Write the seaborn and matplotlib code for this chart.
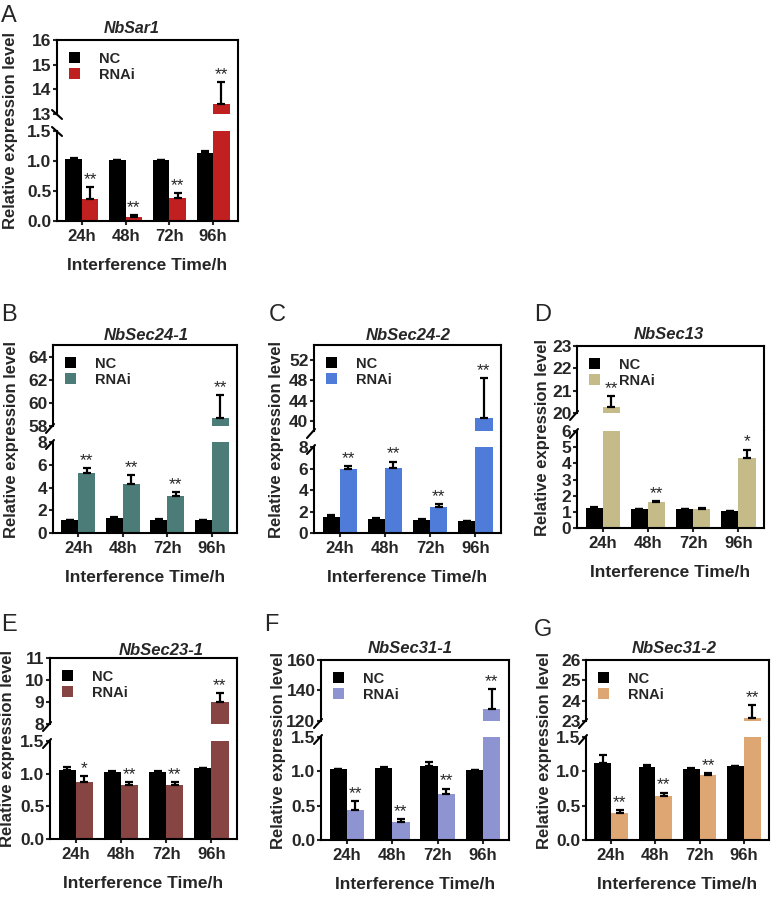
import numpy as np
import pandas as pd
import matplotlib
matplotlib.use("Agg")
import matplotlib.pyplot as plt
import seaborn as sns
from matplotlib.lines import Line2D

sns.set_style("ticks")
plt.rcParams['font.family'] = ['Liberation Sans', 'DejaVu Sans']
plt.rcParams['font.weight'] = 'bold'
plt.rcParams['axes.linewidth'] = 1.5

times = ["24h", "48h", "72h", "96h"]
groups = ["NC", "RNAi"]

# A - NbSar1
sar1_nc = [1.03, 1.02, 1.01, 1.14]
sar1_nc_err = [0.02, 0.0, 0.01, 0.02]
sar1_rnai = [0.37, 0.07, 0.38, 13.4]
sar1_rnai_err = [0.19, 0.03, 0.09, 0.9]
sar1_stars = ["**", "**", "**", "**"]

# B - NbSec24-1
sec241_nc = [1.12, 1.32, 1.18, 1.1]
sec241_nc_err = [0.03, 0.1, 0.05, 0.0]
sec241_rnai = [5.28, 4.28, 3.28, 58.7]
sec241_rnai_err = [0.46, 0.8, 0.32, 2.0]
sec241_stars = ["**", "**", "**", "**"]

# C - NbSec24-2
sec242_nc = [1.45, 1.3, 1.2, 1.1]
sec242_nc_err = [0.2, 0.1, 0.1, 0.02]
sec242_rnai = [5.95, 6.05, 2.45, 40.6]
sec242_rnai_err = [0.3, 0.6, 0.25, 7.8]
sec242_stars = ["**", "**", "**", "**"]

# D - NbSec13
sec13_nc = [1.25, 1.15, 1.15, 1.08]
sec13_nc_err = [0.02, 0.05, 0.03, 0.0]
sec13_rnai = [20.27, 1.62, 1.18, 4.35]
sec13_rnai_err = [0.5, 0.05, 0.07, 0.5]
sec13_stars = ["**", "**", "", "*"]

# E - NbSec23-1
sec231_nc = [1.05, 1.03, 1.03, 1.08]
sec231_nc_err = [0.05, 0.01, 0.01, 0.0]
sec231_rnai = [0.87, 0.82, 0.82, 9.0]
sec231_rnai_err = [0.09, 0.05, 0.05, 0.4]
sec231_stars = ["*", "**", "**", "**"]

# F - NbSec31-1
sec311_nc = [1.03, 1.05, 1.08, 1.02]
sec311_nc_err = [0.01, 0.02, 0.06, 0.0]
sec311_rnai = [0.44, 0.26, 0.67, 128.0]
sec311_rnai_err = [0.13, 0.05, 0.08, 13.0]
sec311_stars = ["**", "**", "**", "**"]

# G - NbSec31-2
sec312_nc = [1.12, 1.07, 1.04, 1.08]
sec312_nc_err = [0.12, 0.02, 0.01, 0.0]
sec312_rnai = [0.40, 0.64, 0.95, 23.17]
sec312_rnai_err = [0.03, 0.05, 0.02, 0.6]
sec312_stars = ["**", "**", "**", "**"]

W, H = 771, 897
fig = plt.figure(figsize=(W / 100, H / 100), dpi=100)


def fx(x):
    return x / W


def fy(y):
    return 1 - y / H


def draw_panel(letter, gene, nc, nc_err, rnai, rnai_err, stars, color,
               box, up_lim, up_ticks, lo_lim, lo_ticks, lo_fmt,
               letter_xy, title_xy, ylab_x, title_size=12, back_slash=False):
    left, right, t_up, b_up, t_lo, b_lo = box
    ax_up = fig.add_axes([fx(left), fy(b_up), (right - left) / W, (b_up - t_up) / H])
    ax_lo = fig.add_axes([fx(left), fy(b_lo), (right - left) / W, (b_lo - t_lo) / H])

    df = pd.DataFrame({
        "time": times * 2,
        "group": ["NC"] * 4 + ["RNAi"] * 4,
        "value": nc + rnai,
    })
    errs = [nc_err, rnai_err]
    vals = [nc, rnai]

    for ax, show_leg in [(ax_up, False), (ax_lo, True)]:
        sns.barplot(data=df, x="time", y="value", hue="group", palette=["black", color],
                    width=0.76, errorbar=None, saturation=1, ax=ax, legend=show_leg,
                    edgecolor="none", linewidth=0)
        for cont, v, e in zip(ax.containers, vals, errs):
            xs = [b.get_x() + b.get_width() / 2 for b in cont]
            ax.errorbar(xs, v, yerr=[np.zeros(4), e], fmt="none", ecolor="black",
                        elinewidth=1.6, capsize=3, capthick=1.6, zorder=3)
        ax.set_xlabel("")
        ax.set_ylabel("")
        for sp in ax.spines.values():
            sp.set_linewidth(1.5)
            sp.set_color("black")
        ax.tick_params(axis="y", direction="out", length=3, width=1.5, labelsize=12.5, pad=1)
        ax.tick_params(axis="x", direction="out", length=3, width=1.5, labelsize=12, pad=3)

    ax_up.set_ylim(*up_lim)
    ax_up.set_yticks(up_ticks)
    ax_up.set_yticklabels(["{:g}".format(t) for t in up_ticks])
    ax_up.spines["bottom"].set_visible(False)
    ax_up.tick_params(axis="x", bottom=False, labelbottom=False)

    ax_lo.set_ylim(*lo_lim)
    ax_lo.set_yticks(lo_ticks)
    ax_lo.set_yticklabels([lo_fmt.format(t) for t in lo_ticks])
    ax_lo.spines["top"].set_visible(False)
    ax_lo.set_xlabel("Interference Time/h", fontsize=12.5, fontweight="bold", labelpad=10)

    # significance stars
    rnai_bars = ax_lo.containers[1]
    for i, s in enumerate(stars):
        if not s:
            continue
        b = rnai_bars[i]
        x = b.get_x() + b.get_width() / 2
        top = rnai[i] + rnai_err[i]
        target = ax_up if top > lo_lim[1] else ax_lo
        target.annotate(s, (x, top), xytext=(0, 0), textcoords="offset points",
                        ha="center", va="bottom", fontsize=12.5, fontweight="normal")

    # legend
    handles, labels = ax_lo.get_legend_handles_labels()
    ax_lo.legend_.remove()
    ax_up.legend(handles, labels, loc="upper left", frameon=False, fontsize=10.5,
                 handlelength=0.75, handleheight=0.75, handletextpad=1.3,
                 labelspacing=0.15, borderaxespad=0.5, borderpad=0.3)

    # right spine across the break
    fig.add_artist(Line2D([fx(right), fx(right)], [fy(b_up), fy(t_lo)],
                          color="black", lw=1.5))
    # break marks on the left axis
    if back_slash:
        for y in (b_up, t_lo):
            fig.add_artist(Line2D([fx(left - 5), fx(left + 5)], [fy(y - 4), fy(y + 5)],
                                  color="black", lw=1.5))
    else:
        for y in (b_up, t_lo):
            fig.add_artist(Line2D([fx(left - 7), fx(left + 1)], [fy(y + 7), fy(y - 2)],
                                  color="black", lw=1.5))

    fig.text(fx(letter_xy[0]), fy(letter_xy[1]), letter, fontsize=17,
             fontweight="normal", ha="left", va="top")
    fig.text(fx(title_xy[0]), fy(title_xy[1]), gene, fontsize=title_size,
             fontstyle="italic", fontweight="bold", ha="center", va="baseline")
    fig.text(fx(ylab_x), fy((t_up + b_lo) / 2), "Relative expression level",
             fontsize=12, fontweight="bold", rotation=90, ha="center", va="center")


draw_panel("A", "NbSar1", sar1_nc, sar1_nc_err, sar1_rnai, sar1_rnai_err, sar1_stars,
           "#C0201F", (57, 238, 40, 114, 131, 221), (13, 16), [13, 14, 15, 16],
           (0, 1.5), [0, 0.5, 1.0, 1.5], "{:.1f}", (1, 5), (132, 33), 11,
           title_size=11.5, back_slash=True)

draw_panel("B", "NbSec24-1", sec241_nc, sec241_nc_err, sec241_rnai, sec241_rnai_err,
           sec241_stars, "#4B7C77", (53, 237, 345, 426, 442, 533), (58, 65),
           [58, 60, 62, 64], (0, 8), [0, 2, 4, 6, 8], "{:g}", (1, 304), (146, 340), 12)

draw_panel("C", "NbSec24-2", sec242_nc, sec242_nc_err, sec242_rnai, sec242_rnai_err,
           sec242_stars, "#4F7BD9", (314, 501, 345, 431, 447, 533), (38, 55),
           [40, 44, 48, 52], (0, 8), [0, 2, 4, 6, 8], "{:g}", (269, 304), (408, 340), 277)

draw_panel("D", "NbSec13", sec13_nc, sec13_nc_err, sec13_rnai, sec13_rnai_err,
           sec13_stars, "#C4BB88", (577, 764, 346, 413, 431, 528), (20, 23),
           [20, 21, 22, 23], (0, 6), [0, 1, 2, 3, 4, 5, 6], "{:g}", (534, 304), (669, 339), 543)

draw_panel("E", "NbSec23-1", sec231_nc, sec231_nc_err, sec231_rnai, sec231_rnai_err,
           sec231_stars, "#864442", (50, 237, 658, 724, 741, 839), (8, 11),
           [8, 9, 10, 11], (0, 1.5), [0, 0.5, 1.0, 1.5], "{:.1f}", (1, 614), (161, 655), 8)

draw_panel("F", "NbSec31-1", sec311_nc, sec311_nc_err, sec311_rnai, sec311_rnai_err,
           sec311_stars, "#8E94D2", (321, 509, 660, 721, 737, 840), (120, 160),
           [120, 140, 160], (0, 1.5), [0, 0.5, 1.0, 1.5], "{:.1f}", (264, 614), (410, 653), 279)

draw_panel("G", "NbSec31-2", sec312_nc, sec312_nc_err, sec312_rnai, sec312_rnai_err,
           sec312_stars, "#DDA673", (586, 769, 660, 721, 737, 840), (23, 26),
           [23, 24, 25, 26], (0, 1.5), [0, 0.5, 1.0, 1.5], "{:.1f}", (534, 619), (674, 653), 545)

fig.savefig("out.png", dpi=100)
